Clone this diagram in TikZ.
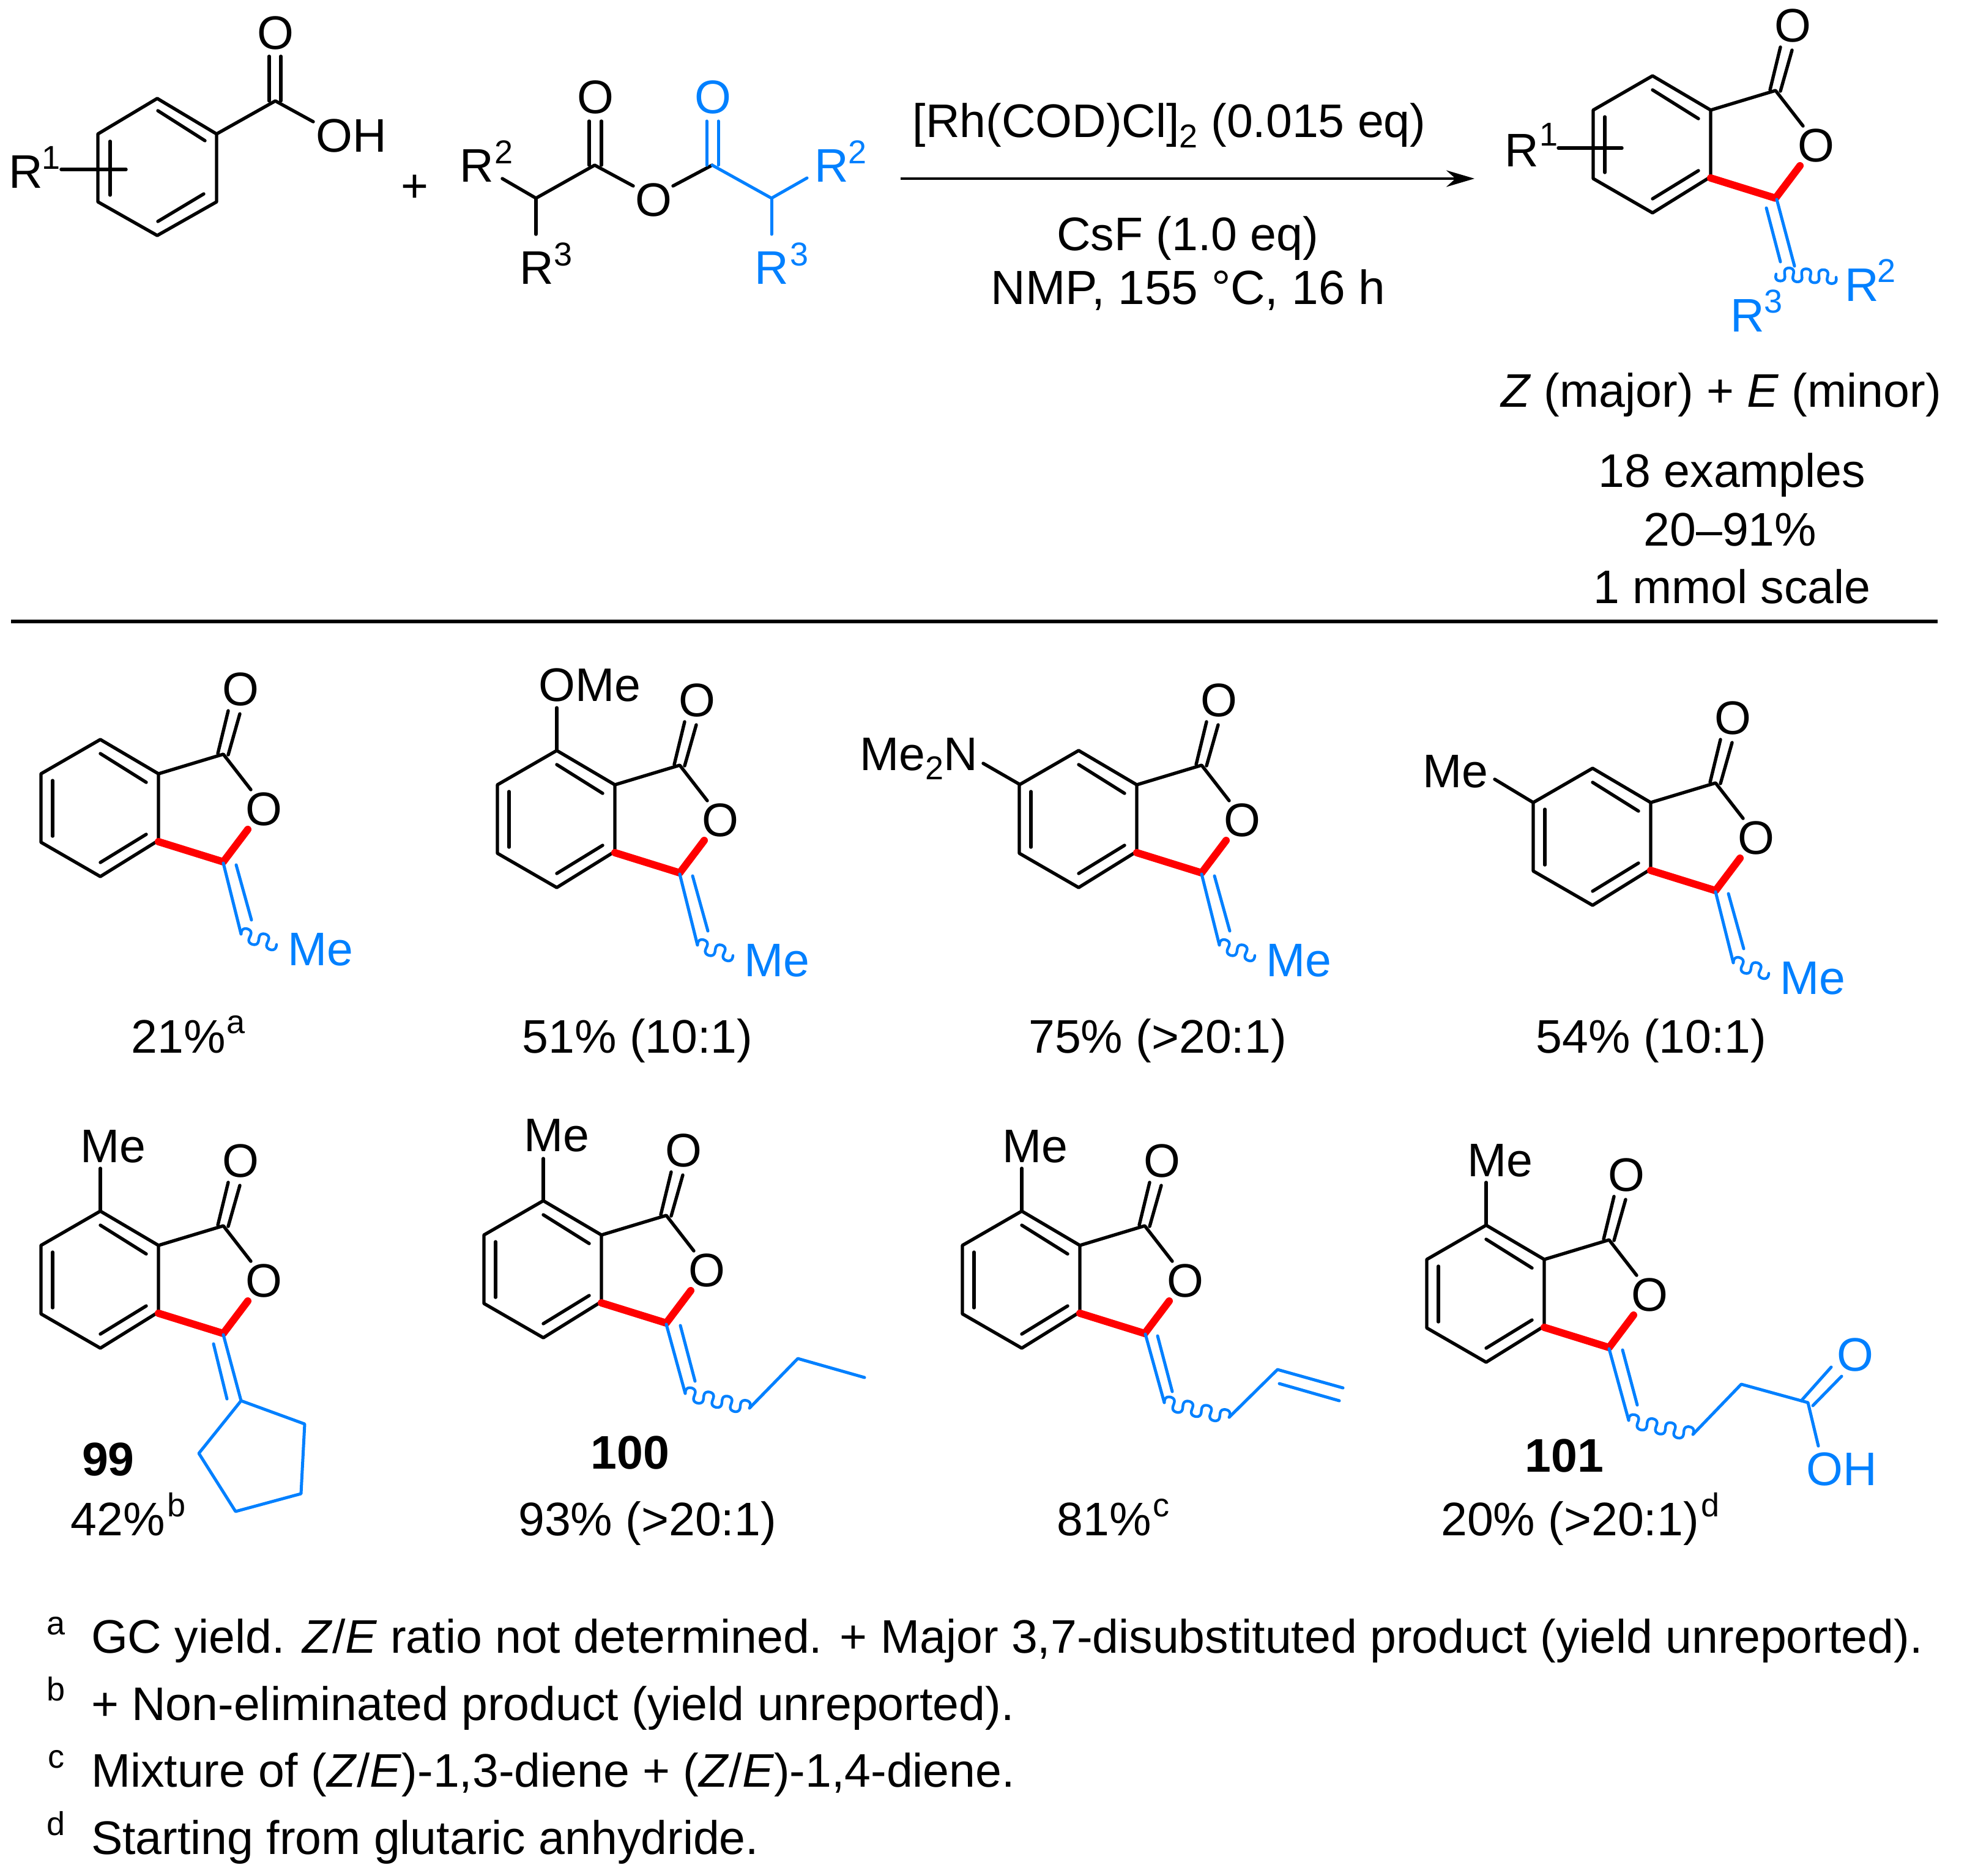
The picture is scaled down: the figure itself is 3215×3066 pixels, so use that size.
\documentclass[tikz,border=0pt]{standalone}
\usepackage{fontspec}
\setmainfont{Liberation Sans}
\usetikzlibrary{arrows.meta}
\definecolor{cblue}{RGB}{0,128,255}
\definecolor{cred}{RGB}{255,0,0}
\newcommand{\fmain}{\fontsize{38.5}{44}\selectfont}
\newcommand{\fwide}{\fontsize{39.2}{44}\selectfont}
\newcommand{\fsupr}{\fontsize{27}{30}\selectfont}
\newcommand{\subtwo}[1]{\raisebox{-#1pt}{\fsupr 2}}
\tikzset{
  bk/.style={line width=2.7pt,line cap=round,line join=round,draw=black},
  bl/.style={line width=2.5pt,line cap=round,line join=round,draw=cblue},
  rd/.style={line width=6pt,line cap=round,line join=round,draw=cred},
  tx/.style={inner sep=0pt,outer sep=0pt,font=\fmain,anchor=base},
  sp/.style={inner sep=0pt,outer sep=0pt,font=\fsupr,anchor=base},
  atm/.style={inner sep=0pt,outer sep=0pt,font=\fmain,anchor=center},
  fn/.style={inner sep=0pt,outer sep=0pt,font=\fmain,anchor=base west},
}
% phthalide core, drawn at the place of the first compound and shifted
\newcommand{\core}[3]{%
  \begin{scope}[shift={(#2,#3)}]
    \draw[bk] (164,1209)--(259,1265)--(259,1374)--(164,1433)--(67,1377)--(67,1265)--cycle;
    \draw[bk] (164,1232)--(239,1279);
    \draw[bk] (164,1410)--(239,1364);
    \draw[bk] (86,1276)--(86,1367);
    \draw[bk] (259,1265)--(365,1233)--(410,1291);
    \draw[bk] (356,1232)--(373,1162);
    \draw[bk] (373,1234)--(392,1167);
    \draw[rd] (259,1376)--(365,1409)--(405,1356);
    \node[atm] (#1co) at (393,1127) {O};
    \node[atm] (#1ro) at (431,1323) {O};
  \end{scope}}
% blue exocyclic double bond, second line on the right
\newcommand{\exo}[2]{%
  \begin{scope}[shift={(#1,#2)}]
    \draw[bl] (365,1411)--(394,1527);
    \draw[bl] (386,1414)--(411,1504);
  \end{scope}}
% wavy bond x1 y1 x2 y2 periods amplitude
\newcommand{\wav}[6]{%
  \pgfmathsetmacro{\wdx}{#3-#1}\pgfmathsetmacro{\wdy}{#4-#2}%
  \pgfmathsetmacro{\wl}{veclen(\wdx,\wdy)}%
  \draw[bl,line width=2.2pt] plot[variable=\t,domain=0:1,samples=120,smooth]
    ({#1+(\t-3.2*sin(720*(#5)*\t)/\wl)*\wdx+(#6)*sin(360*(#5)*\t)*\wdy/\wl},
     {#2+(\t-3.2*sin(720*(#5)*\t)/\wl)*\wdy-(#6)*sin(360*(#5)*\t)*\wdx/\wl});}
\begin{document}
\begin{tikzpicture}[x=0.5pt,y=-0.5pt]
\useasboundingbox (0,0) rectangle (3215,3066);
\fill[white] (0,0) rectangle (3215,3066);

% --- benzoic acid
\draw[bk] (257,161)--(354,219)--(354,330)--(257,385)--(160,330)--(160,219)--cycle;
\draw[bk] (258,181)--(335,230);
\draw[bk] (258,362)--(333,317);
\draw[bk] (180,231)--(180,319);
\draw[bk] (354,219)--(450,165)--(512,199);
\draw[bk] (440,92)--(440,165);
\draw[bk] (459,92)--(459,165);
\draw[bk] (100,277)--(206,277);
\node[atm] (baO) at (450,54) {O};
\node[tx] (baOH) at (574,249) {OH};
\node[tx] (baR) at (42,308) {R};
\node[sp] (baS) at (84,277) {1};

\node[tx] (plus) at (678,331) {+};

% --- anhydride
\draw[bk] (821,292)--(876,324)--(972,270)--(1035,304);
\draw[bk] (876,324)--(876,383);
\draw[bk] (963,198)--(963,270);
\draw[bk] (983,198)--(983,270);
\draw[bk] (1100,304)--(1164,270);
\draw[bl] (1164,270)--(1261,324)--(1319,291);
\draw[bl] (1261,324)--(1261,383);
\draw[bl] (1155,198)--(1155,270);
\draw[bl] (1174,198)--(1174,270);
\node[atm] (anO1) at (973,159) {O};
\node[atm] (anO2) at (1068,327) {O};
\node[atm,text=cblue] (anO3) at (1165,159) {O};
\node[tx] (anR2) at (779,298) {R};
\node[sp] (anS2) at (824,268) {2};
\node[tx] (anR3) at (877,464) {R};
\node[sp] (anS3) at (921,434) {3};
\node[tx,text=cblue] (anR2b) at (1359,298) {R};
\node[sp,text=cblue] (anS2b) at (1401,268) {2};
\node[tx,text=cblue] (anR3b) at (1261,464) {R};
\node[sp,text=cblue] (anS3b) at (1306,434) {3};

% --- arrow and conditions
\coordinate (arrS) at (1472,292);
\coordinate (arrE) at (2410,292);
\draw[line width=2pt,-{Stealth[length=23pt,width=13.5pt]}] (arrS)--(arrE);
\node[tx] (c1) at (1911,225) {[Rh(COD)Cl]\subtwo{8.5} (0.015 eq)};
\node[tx] (c2) at (1941,409) {CsF (1.0 eq)};
\node[tx,font=\fwide] (c3) at (1942,497) {NMP, 155 °C, 16 h};

% --- general product
\core{pr}{2537}{-1085}
\draw[bl] (2904,326)--(2933,435);
\draw[bl] (2887,340)--(2910,428);
\wav{2903}{448}{3001}{453}{3.5}{-11}
\draw[bk] (2547,242)--(2651,242);
\node[tx] (prR1) at (2487,273) {R};
\node[sp] (prS1) at (2531,239) {1};
\node[tx,text=cblue] (prR2) at (3043,492) {R};
\node[sp,text=cblue] (prS2) at (3083,461) {2};
\node[tx,text=cblue] (prR3) at (2856,542) {R};
\node[sp,text=cblue] (prS3) at (2898,511) {3};
\node[tx] (pr1) at (2813,665) {\textit{Z} (major) + \textit{E} (minor)};
\node[tx] (pr2) at (2831,796) {18 examples};
\node[tx] (pr3) at (2828,892) {20–91\%};
\node[tx] (pr4) at (2831,986) {1 mmol scale};

% --- separator
\draw[line width=3pt] (18,1016)--(3167,1016);

% --- compound 1
\core{a}{0}{0}
\exo{0}{0}
\wav{394}{1527}{452}{1544}{2}{11}
\node[tx,text=cblue] (aMe) at (524,1578) {Me};
\node[tx] (ay) at (292,1721) {21\%};
\node[sp] (ays) at (385.5,1689) {a};

% --- compound 2
\core{b}{746}{18}
\exo{746}{18}
\wav{1140}{1545}{1198}{1562}{2}{11}
\node[tx,text=cblue] (bMe) at (1270,1596) {Me};
\draw[bk] (910,1157)--(910,1227);
\node[tx] (bOMe) at (964,1146) {OMe};
\node[tx] (by) at (1042,1721) {51\% (10:1)};

% --- compound 3
\core{c}{1599}{18}
\exo{1599}{18}
\wav{1993}{1545}{2051}{1562}{2}{11}
\node[tx,text=cblue] (cMe) at (2123,1596) {Me};
\draw[bk] (1607,1248)--(1666,1282);
\node[tx] (cN) at (1502,1259) {Me\subtwo{7.5}N};
\node[tx] (cy) at (1892,1721) {75\% (>20:1)};

% --- compound 4
\core{d}{2439}{47}
\exo{2439}{47}
\wav{2833}{1574}{2891}{1591}{2}{11}
\node[tx,text=cblue] (dMe) at (2963,1625) {Me};
\draw[bk] (2443,1274)--(2506,1312);
\node[tx] (dM) at (2379,1287) {Me};
\node[tx] (dy) at (2699,1721) {54\% (10:1)};

% --- 99
\core{e}{0}{771}
\draw[bl] (365,2182)--(394,2290);
\draw[bl] (349,2197)--(371,2287);
\draw[bl] (394,2290)--(498,2328)--(492,2442)--(385,2471)--(325,2376)--cycle;
\draw[bk] (164,1910)--(164,1980);
\node[tx] (eM) at (185,1900) {Me};
\node[tx,font=\fmain\bfseries] (el) at (177,2412) {99};
\node[tx] (ey) at (193,2510) {42\%};
\node[sp] (eys) at (288.5,2479) {b};

% --- 100
\core{f}{724}{754}
\draw[bl] (1089,2165)--(1120,2278);
\draw[bl] (1112,2167)--(1136,2258);
\wav{1120}{2278}{1225}{2302}{3.5}{11}
\draw[bl] (1225,2302)--(1304,2221)--(1413,2252);
\draw[bk] (888,1894)--(888,1963);
\node[tx] (fM) at (910,1882) {Me};
\node[tx,font=\fmain\bfseries] (fl) at (1030,2401) {100};
\node[tx] (fy) at (1058,2510) {93\% (>20:1)};

% --- 81 %
\core{g}{1506}{771}
\draw[bl] (1872,2181)--(1903,2293);
\draw[bl] (1892,2184)--(1916,2275);
\wav{1903}{2293}{2009}{2317}{3.5}{11}
\draw[bl] (2009,2317)--(2088,2239)--(2195,2269);
\draw[bl] (2091,2262)--(2189,2290);
\draw[bk] (1670,1910)--(1670,1980);
\node[tx] (gM) at (1692,1900) {Me};
\node[tx] (gy) at (1805,2510) {81\%};
\node[sp] (gys) at (1898,2479) {c};

% --- 101
\core{h}{2265}{794}
\draw[bl] (2630,2205)--(2662,2322);
\draw[bl] (2652,2207)--(2676,2297);
\wav{2662}{2322}{2767}{2345}{3.5}{11}
\draw[bl] (2767,2345)--(2846,2263)--(2955,2293)--(2972,2364);
\draw[bl] (2944,2290)--(2993,2235);
\draw[bl] (2963,2298)--(3010,2250);
\draw[bk] (2429,1933)--(2429,2003);
\node[tx] (hM) at (2452,1923) {Me};
\node[atm,text=cblue] (hO) at (3032,2215) {O};
\node[tx,text=cblue] (hOH) at (3010,2428) {OH};
\node[tx,font=\fmain\bfseries] (hl) at (2557,2406) {101};
\node[tx] (hy) at (2566,2510) {20\% (>20:1)};
\node[sp] (hys) at (2795.5,2479) {d};

% --- footnotes
\node[sp] (na) at (92,2672) {a};
\node[sp] (nb) at (92,2780) {b};
\node[sp] (nc) at (92,2890) {c};
\node[sp] (nd) at (92,3000) {d};
\node[fn] (fa) at (149,2702) {GC yield. \textit{Z}/\textit{E} ratio not determined. + Major 3,7-disubstituted product (yield unreported).};
\node[fn] (fb) at (149,2812) {+ Non-eliminated product (yield unreported).};
\node[fn] (fc) at (149,2921) {Mixture of (\textit{Z}/\textit{E})-1,3-diene + (\textit{Z}/\textit{E})-1,4-diene.};
\node[fn] (fd) at (149,3031) {Starting from glutaric anhydride.};
\end{tikzpicture}
\end{document}
